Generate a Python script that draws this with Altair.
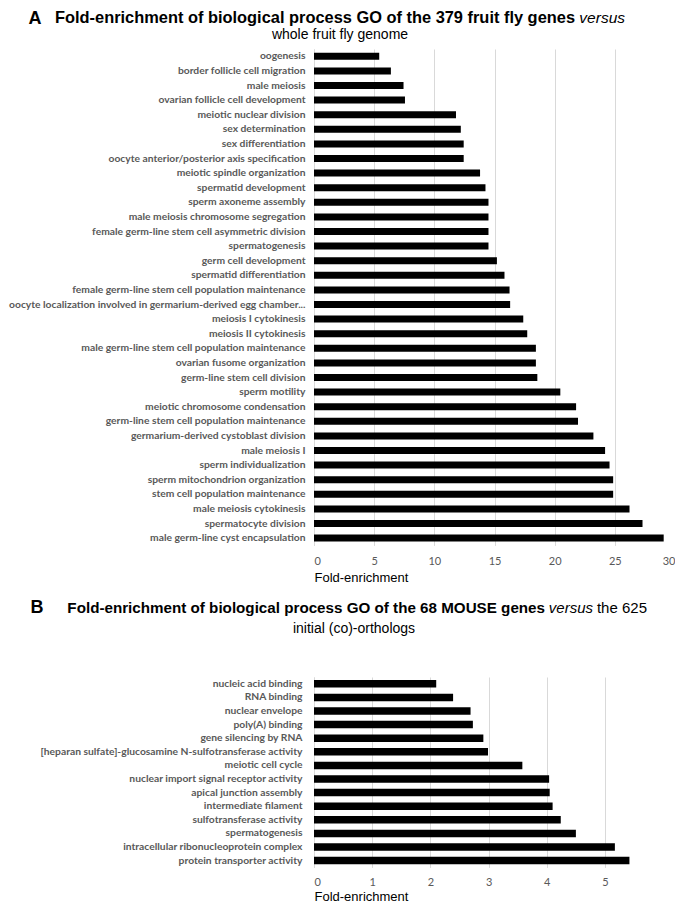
import altair as alt
import pandas as pd

# ---------------- data ----------------
fly_terms = [
    "oogenesis",
    "border follicle cell migration",
    "male meiosis",
    "ovarian follicle cell development",
    "meiotic nuclear division",
    "sex determination",
    "sex differentiation",
    "oocyte anterior/posterior axis specification",
    "meiotic spindle organization",
    "spermatid development",
    "sperm axoneme assembly",
    "male meiosis chromosome segregation",
    "female germ-line stem cell asymmetric division",
    "spermatogenesis",
    "germ cell development",
    "spermatid differentiation",
    "female germ-line stem cell population maintenance",
    "oocyte localization involved in germarium-derived egg chamber...",
    "meiosis I cytokinesis",
    "meiosis II cytokinesis",
    "male germ-line stem cell population maintenance",
    "ovarian fusome organization",
    "germ-line stem cell division",
    "sperm motility",
    "meiotic chromosome condensation",
    "germ-line stem cell population maintenance",
    "germarium-derived cystoblast division",
    "male meiosis I",
    "sperm individualization",
    "sperm mitochondrion organization",
    "stem cell population maintenance",
    "male meiosis cytokinesis",
    "spermatocyte division",
    "male germ-line cyst encapsulation",
]
fly_values = [
    5.42, 6.39, 7.44, 7.56, 11.8, 12.2, 12.44, 12.44, 13.8, 14.25, 14.5, 14.5,
    14.5, 14.5, 15.2, 15.83, 16.25, 16.3, 17.39, 17.72, 18.44, 18.44, 18.56,
    20.47, 21.78, 21.94, 23.22, 24.19, 24.56, 24.86, 24.86, 26.22, 27.3, 29.06,
]
fly_ticks = [0, 5, 10, 15, 20, 25, 30]

mouse_terms = [
    "nucleic acid binding",
    "RNA binding",
    "nuclear envelope",
    "poly(A) binding",
    "gene silencing by RNA",
    "[heparan sulfate]-glucosamine N-sulfotransferase activity",
    "meiotic cell cycle",
    "nuclear import signal receptor activity",
    "apical junction assembly",
    "intermediate filament",
    "sulfotransferase activity",
    "spermatogenesis",
    "intracellular ribonucleoprotein complex",
    "protein transporter activity",
]
mouse_values = [2.1, 2.39, 2.69, 2.73, 2.91, 2.99, 3.58, 4.04, 4.05, 4.10, 4.24, 4.50, 5.17, 5.42]
mouse_ticks = [0, 1, 2, 3, 4, 5]

axis_title = "Fold-enrichment"

title_a_letter = "A"
title_a_bold = "Fold-enrichment of biological process GO of the 379 fruit fly genes"
title_a_italic = "versus"
title_a_line2 = "whole fruit fly genome"

title_b_letter = "B"
title_b_bold = "Fold-enrichment of biological process GO of the 68 MOUSE genes"
title_b_italic = "versus"
title_b_rest = "the 625"
title_b_line2 = "initial (co)-orthologs"

LABEL_FONT = "Lato"
TITLE_FONT = "Liberation Sans"
GRAY = "#595959"
GRID = "#d9d9d9"


def text_layer(s, x, y, size=16, weight="bold", style="normal", align="left"):
    return alt.Chart(pd.DataFrame({"t": [s]})).mark_text(
        font=TITLE_FONT, fontSize=size, fontWeight=weight, fontStyle=style,
        align=align, baseline="middle", color="black",
    ).encode(text="t:N", x=alt.value(x), y=alt.value(y))


def panel(terms, values, domain, ticks, width, step, bar_size, label_pad,
          tick_pad, title_pad, texts):
    df = pd.DataFrame({"term": terms, "value": values})
    bars = alt.Chart(df).mark_bar(color="black", size=bar_size).encode(
        x=alt.X(
            "value:Q",
            scale=alt.Scale(domain=domain, nice=False, zero=True),
            axis=alt.Axis(
                values=ticks, title=axis_title, titleFont=TITLE_FONT,
                titleFontSize=13, titleFontWeight="normal", titleColor="black",
                titleAnchor="start", titlePadding=title_pad,
                labelFont=LABEL_FONT, labelFontSize=11, labelColor=GRAY,
                labelPadding=tick_pad, domain=False, ticks=False,
                grid=True, gridColor=GRID, gridWidth=1,
            ),
        ),
        y=alt.Y(
            "term:N", sort=terms,
            scale=alt.Scale(paddingInner=0, paddingOuter=0),
            axis=alt.Axis(
                title=None, labelFont=LABEL_FONT, labelFontSize=10.3,
                labelFontWeight="bold", labelColor=GRAY, labelPadding=label_pad,
                labelLimit=500, ticks=False, domain=True, domainColor=GRID,
                domainWidth=1,
            ),
        ),
    )
    return alt.layer(bars, *texts).properties(
        width=width, height=alt.Step(step)
    )


ox = 319  # plot origin (page x)

panel_a = panel(
    fly_terms, fly_values, [0, 30], fly_ticks, 361, 14.6, 7, 9, 10, 5,
    [
        text_layer(title_a_letter, 40 - ox, -30, size=18, align="center"),
        text_layer(title_a_bold, 580 - ox, -31, size=16.4, align="right"),
        text_layer(title_a_italic, 630 - ox, -31, size=15.5, weight="normal",
                   style="italic", align="right"),
        text_layer(title_a_line2, 345 - ox, -14.5, size=14, weight="normal",
                   align="center"),
    ],
)

panel_b = panel(
    mouse_terms, mouse_values, [0, 5.55], mouse_ticks, 323, 13.6, 7.5, 12, 9, 3,
    [
        text_layer(title_b_letter, 42 - ox, -69, size=18, align="center"),
        text_layer(title_b_bold, 550 - ox, -69, size=15.2, align="right"),
        text_layer(title_b_italic, 598 - ox, -69, size=15, weight="normal",
                   style="italic", align="right"),
        text_layer(title_b_rest, 652 - ox, -69, size=15, weight="normal",
                   align="right"),
        text_layer(title_b_line2, 359 - ox, -48, size=14, weight="normal",
                   align="center"),
    ],
)

chart = alt.vconcat(panel_a, panel_b, spacing=14).properties(
    padding={"left": 0, "top": 2, "right": 0, "bottom": 0}
).configure_view(stroke=None)

chart.save("out.html", embed_options={"renderer": "svg", "actions": False})
